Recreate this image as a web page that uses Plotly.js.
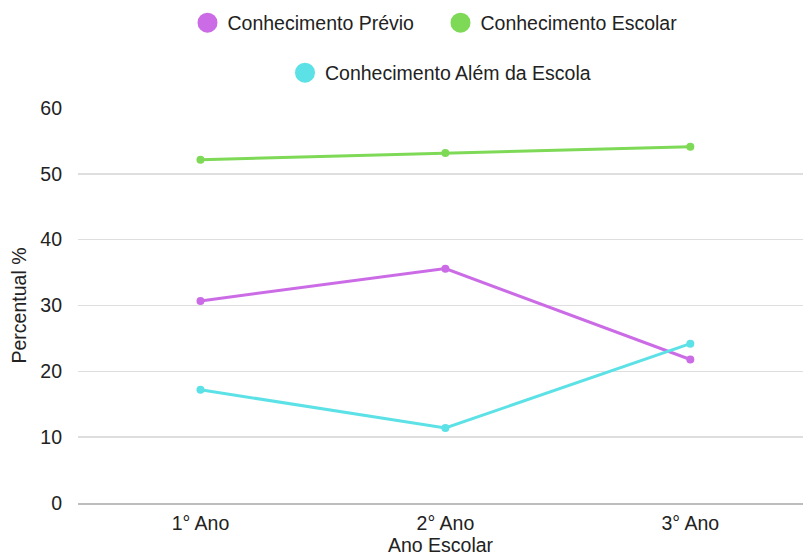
<!DOCTYPE html>
<html>
<head>
<meta charset="utf-8">
<script src="https://cdn.plot.ly/plotly-3.0.1.min.js"></script>
<style>html,body{margin:0;padding:0;background:#fff;}#chart{width:803px;height:557px;}</style>
</head>
<body>
<div id="chart"></div>
<script>
const categories = ["1° Ano", "2° Ano", "3° Ano"];
const previo = [30.7, 35.6, 21.8];
const escolar = [52.15, 53.15, 54.1];
const alem = [17.2, 11.4, 24.2];
const seriesNames = ["Conhecimento Prévio", "Conhecimento Escolar", "Conhecimento Além da Escola"];
const colors = ["#CB6CE6", "#7ED957", "#5CE1E6"];
const seriesData = [previo, escolar, alem];

const traces = [];
seriesData.forEach((vals, i) => {
  traces.push({
    x: categories, y: vals, type: "scatter", mode: "lines+markers",
    name: seriesNames[i], showlegend: false,
    line: {color: colors[i], width: 3},
    marker: {color: colors[i], size: 8},
    hoverinfo: "skip"
  });
});
seriesData.forEach((vals, i) => {
  traces.push({
    x: [null], y: [null], type: "scatter", mode: "markers",
    name: seriesNames[i], showlegend: true,
    legend: i < 2 ? "legend" : "legend2",
    marker: {color: colors[i], size: 16, line: {color: colors[i], width: 4}}
  });
});

const FS = 19.5;
const fam = "Liberation Sans, Arial, sans-serif";
const txt = {family: fam, size: FS, color: "#222"};
const layout = {
  width: 803, height: 557,
  margin: {l: 78, r: 0, t: 108, b: 54},
  paper_bgcolor: "#fff", plot_bgcolor: "#fff",
  font: txt,
  showlegend: true,
  legend: {orientation: "h", x: 0.5, xref: "paper", xanchor: "center",
           y: 1 - 23/557, yref: "container", yanchor: "middle",
           font: txt, itemwidth: 30, entrywidth: 208, entrywidthmode: "pixels"},
  legend2: {orientation: "h", x: 0.5, xref: "paper", xanchor: "center",
            y: 1 - 73/557, yref: "container", yanchor: "middle",
            font: txt, itemwidth: 30},
  xaxis: {
    type: "category", range: [-0.5, 2.46],
    showgrid: false, zeroline: false,
    showline: true, linecolor: "#bdbdbd", linewidth: 1.5,
    ticks: "", ticklabelstandoff: 2,
    tickfont: txt,
    title: {text: "Ano Escolar", font: txt, standoff: 4}
  },
  yaxis: {
    range: [0, 60], dtick: 10, tick0: 0,
    showgrid: true, gridcolor: "#dedede", gridwidth: 1.5,
    zeroline: false, showline: false,
    ticks: "", ticklabelstandoff: 15,
    tickfont: txt,
    title: {text: "Percentual %", font: txt, standoff: 8}
  }
};

Plotly.newPlot("chart", traces, layout, {displayModeBar: false, staticPlot: true});
</script>
</body>
</html>
